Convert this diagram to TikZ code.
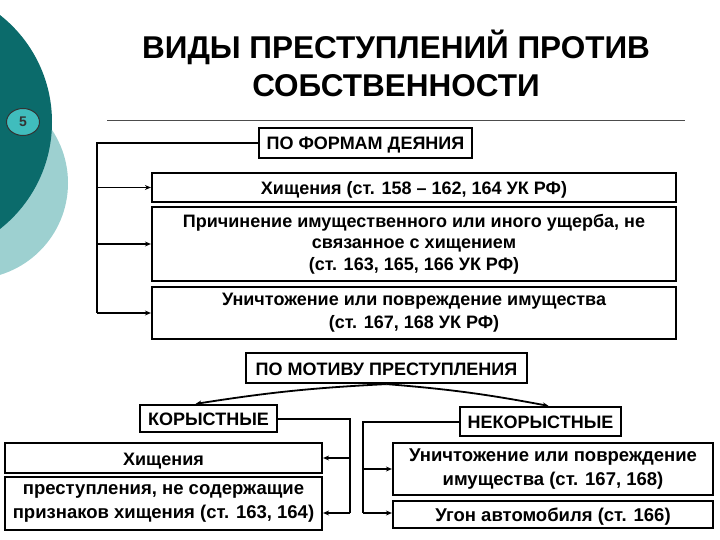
\documentclass[tikz,border=0pt]{standalone}
\usepackage{fontspec}
\setmainfont{Liberation Sans}
\usetikzlibrary{arrows.meta,shapes.geometric}
\definecolor{darkteal}{HTML}{0B6B6B}
\definecolor{lightteal}{HTML}{9DD0D0}
\definecolor{midteal}{HTML}{40BDBD}
\tikzset{
  box/.style={draw=black, line width=2.2pt, fill=white, inner sep=0pt, align=center,
    font=\fontsize{18}{21.5}\selectfont\bfseries},
  sbox/.style={draw=black, line width=2.2pt, fill=white, inner sep=0pt,
    font=\fontsize{18}{21.5}\selectfont\bfseries, text height=16pt, text depth=2pt},
  conn/.style={line width=2pt},
  arr/.style={line width=1.8pt, -{Stealth[length=6pt,width=5pt]}},
}
\begin{document}
\begin{tikzpicture}[x=1pt,y=-1pt]
\useasboundingbox (0,0) rectangle (720,540);
% decorative circles
\begin{scope}
\clip (0,0) rectangle (720,540);
\fill[lightteal] (-28,183) circle (96);
\fill[darkteal] (-84,122) circle (136);
\end{scope}
\node[ellipse, draw=black!80, line width=1pt, fill=midteal, minimum width=33pt, minimum height=27pt, inner sep=0pt,
  font=\fontsize{14}{14}\selectfont\bfseries, text=black!80] (num) at (23,122) {5};
% title
\node[align=center, font=\fontsize{31.5}{38}\selectfont\bfseries] (title) at (396,63)
  {ВИДЫ ПРЕСТУПЛЕНИЙ ПРОТИВ\\СОБСТВЕННОСТИ};
\draw[black!70, line width=0.8pt] (107,120) coordinate (ha) -- (685,120) coordinate (hb);
% forms
\node[sbox, minimum width=213pt, minimum height=30pt] (forms) at (365.5,143) {ПО ФОРМАМ ДЕЯНИЯ};
\node[sbox, minimum width=524pt, minimum height=29pt] (b1) at (414,187.5) {Хищения (ст. 158 – 162, 164 УК РФ)};
\node[box, minimum width=524pt, minimum height=74pt] (b2) at (414,244)
  {Причинение имущественного или иного ущерба, не\\связанное с хищением\\(ст. 163, 165, 166 УК РФ)};
\node[box, minimum width=524pt, minimum height=52pt, font=\fontsize{18}{23}\selectfont\bfseries] (b3) at (414,313)
  {Уничтожение или повреждение имущества\\(ст. 167, 168 УК РФ)};
\coordinate (lx) at (97,0);
\draw[conn] (forms.west) -- (forms.west -| lx) -- (lx |- b3.west);
\draw[arr] (lx |- b1.west) -- (b1.west);
\draw[arr] (lx |- b2.west) -- (b2.west);
\draw[arr] (lx |- b3.west) -- (b3.west);
% motive
\node[sbox, minimum width=281pt, minimum height=30pt] (mot) at (386.5,368) {ПО МОТИВУ ПРЕСТУПЛЕНИЯ};
\node[sbox, minimum width=137pt, minimum height=27pt] (kor) at (208.5,418.5) {КОРЫСТНЫЕ};
\node[sbox, minimum width=161pt, minimum height=29pt] (nekor) at (540.5,421.5) {НЕКОРЫСТНЫЕ};
\draw[arr] (mot.south) to[bend right=3] ([xshift=-13pt]kor.north);
\draw[arr] (mot.south) to[bend left=3] ([xshift=8pt]nekor.north);
\node[sbox, minimum width=317pt, minimum height=30pt] (l1) at (163.5,458) {Хищения};
\node[box, minimum width=317pt, minimum height=53pt, font=\fontsize{18.5}{24}\selectfont\bfseries, text depth=4pt] (l2) at (163.5,503.5)
  {преступления, не содержащие\\признаков хищения (ст. 163, 164)};
\node[box, minimum width=320pt, minimum height=52pt, font=\fontsize{18.5}{24}\selectfont\bfseries] (r1) at (553,469)
  {Уничтожение или повреждение\\имущества (ст. 167, 168)};
\node[sbox, minimum width=320pt, minimum height=27pt, font=\fontsize{18.5}{22}\selectfont\bfseries] (r2) at (553,514.5) {Угон автомобиля (ст. 166)};
\coordinate (kx) at (350,0);
\coordinate (ky) at (0,513);
\draw[conn] (kor.east) -- (kor.east -| kx) -- (kx |- ky);
\draw[arr] (kx |- l1.east) -- (l1.east);
\draw[arr] (kx |- ky) -- (l2.east |- ky);
\coordinate (nx) at (363,0);
\draw[conn] (nekor.west) -- (nekor.west -| nx) -- (nx |- ky);
\draw[arr] (nx |- r1.west) -- (r1.west);
\draw[arr] (nx |- ky) -- (r2.west |- ky);
\end{tikzpicture}
\end{document}
